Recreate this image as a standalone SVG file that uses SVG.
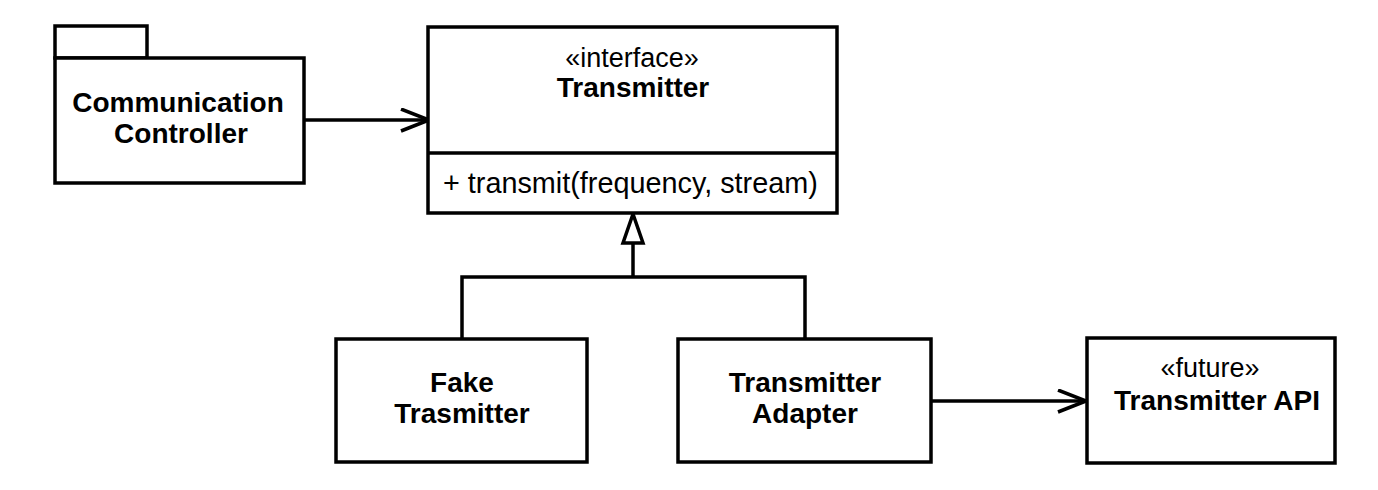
<svg xmlns="http://www.w3.org/2000/svg" width="1378" height="490" viewBox="0 0 1378 490">
<style>
.box{fill:#fff;stroke:#000;stroke-width:3.5;stroke-linejoin:miter}
.ln{fill:none;stroke:#000;stroke-width:3.5}
text{font-family:"Liberation Sans",Arial,sans-serif;font-size:27px;fill:#000}
.b{font-weight:bold;font-size:28px}
.c{text-anchor:middle}
.m{font-size:28.8px}
</style>
<defs>
<marker id="open" markerWidth="32" markerHeight="28" refX="29" refY="12" orient="auto" markerUnits="userSpaceOnUse">
<path d="M1,1 L29,12 L1,23" fill="none" stroke="#000" stroke-width="3.5"/>
</marker>
</defs>
<rect width="1378" height="490" fill="#fff"/>
<g id="connectors">
<line class="ln" x1="304" y1="120" x2="429" y2="120" marker-end="url(#open)"/>
<polyline class="ln" points="462,339 462,277 805,277 805,339"/>
<line class="ln" x1="633" y1="277" x2="633" y2="243"/>
<path d="M633,214 L643,243 L623,243 Z" fill="#fff" stroke="#000" stroke-width="3.5" stroke-linejoin="miter"/>
<line class="ln" x1="931" y1="401" x2="1086" y2="401" marker-end="url(#open)"/>
</g>
<g id="communication-controller">
<rect class="box" x="55" y="26" width="92" height="32"/>
<rect class="box" x="55" y="58" width="249" height="125"/>
<text class="b c" x="178" y="112">Communication</text>
<text class="b c" x="181" y="143">Controller</text>
</g>
<g id="transmitter">
<rect class="box" x="428" y="27" width="409" height="186"/>
<line class="ln" x1="428" y1="153" x2="837" y2="153"/>
<text class="c" x="632" y="67">«interface»</text>
<text class="b c" x="633" y="97">Transmitter</text>
<text class="m" x="443" y="193">+ transmit(frequency, stream)</text>
</g>
<g id="fake-transmitter">
<rect class="box" x="336" y="339" width="251" height="123"/>
<text class="b c" x="462" y="392">Fake</text>
<text class="b c" x="462" y="423">Trasmitter</text>
</g>
<g id="transmitter-adapter">
<rect class="box" x="678" y="339" width="253" height="123"/>
<text class="b c" x="805" y="392">Transmitter</text>
<text class="b c" x="805" y="423">Adapter</text>
</g>
<g id="transmitter-api">
<rect class="box" x="1087" y="338" width="248" height="125"/>
<text class="c" x="1210" y="377">«future»</text>
<text class="b c" x="1217" y="410">Transmitter API</text>
</g>
</svg>
